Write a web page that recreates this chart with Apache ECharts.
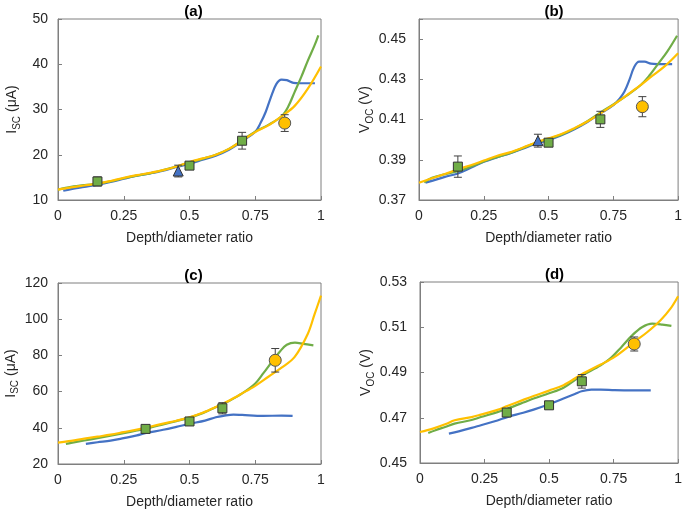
<!DOCTYPE html>
<html><head><meta charset="utf-8">
<script src="https://cdn.jsdelivr.net/npm/echarts/dist/echarts.min.js"></script>
<style>html,body{margin:0;padding:0;background:#fff}#c{width:685px;height:513px}</style>
</head><body><div id="c"></div><script>
const FONT = '"Liberation Sans", Arial, sans-serif';
const BLUE = '#4472C4', GREEN = '#70AD47', ORANGE = '#FFC000';
const xTickLabels = ['0', '0.25', '0.5', '0.75', '1'];
const panelTitles = ['(a)', '(b)', '(c)', '(d)'];
const xAxisTitle = 'Depth/diameter ratio';

// ---- Panel (a): I_SC (µA) ----
const aOrangeX = [0,0.05,0.1,0.15,0.2,0.25,0.3,0.35,0.4,0.45,0.5,0.55,0.6,0.65,0.7,0.75,0.8,0.85,0.9,0.95,1.0];
const aOrangeY = [12.3,12.8,13.2,13.6,14.2,14.9,15.5,16.0,16.6,17.4,18.4,19.2,20.0,21.3,23.1,25.0,26.5,28.5,30.8,34.6,39.5];
const aGreenX = [0,0.05,0.1,0.15,0.2,0.25,0.3,0.35,0.4,0.45,0.5,0.55,0.6,0.65,0.7,0.75,0.8,0.85,0.875,0.9,0.925,0.95,0.975,0.99];
const aGreenY = [12.3,12.9,13.3,13.6,14.1,14.8,15.4,15.9,16.6,17.4,18.3,19.1,20.0,21.3,23.2,25.1,26.6,28.5,30.6,33.9,37.2,40.8,44.1,46.4];
const aBlueX = [0.02,0.05,0.1,0.15,0.2,0.25,0.3,0.35,0.4,0.45,0.5,0.55,0.6,0.65,0.7,0.75,0.77,0.79,0.81,0.83,0.85,0.87,0.895,0.92,0.95,0.977];
const aBlueY = [12.05,12.4,12.9,13.4,14.0,14.7,15.4,15.9,16.5,17.3,18.0,18.9,19.8,21.1,23.0,25.1,27.0,29.5,32.8,35.6,36.6,36.5,35.9,35.8,35.8,35.8];
const aSqX = [0.15,0.5,0.7];   const aSqY = [14.1,17.6,23.1];   const aSqErr = [1.0,0.5,1.85];
const aTriX = [0.457];         const aTriY = [16.4];            const aTriErr = [1.3];
const aCirX = [0.862];         const aCirY = [27.0];            const aCirErr = [1.85];

// ---- Panel (b): V_OC (V) ----
const bOrangeX = [0,0.05,0.1,0.15,0.2,0.25,0.3,0.35,0.4,0.45,0.5,0.55,0.6,0.65,0.7,0.75,0.8,0.85,0.9,0.95,1.0];
const bOrangeY = [0.3786,0.3808,0.3829,0.3853,0.3873,0.3896,0.3919,0.3937,0.396,0.3985,0.4007,0.4028,0.4057,0.409,0.4131,0.4173,0.4219,0.4266,0.4317,0.4367,0.443];
const bGreenX = [0.02,0.05,0.1,0.15,0.2,0.25,0.3,0.35,0.4,0.45,0.5,0.55,0.6,0.65,0.7,0.75,0.8,0.856,0.89,0.92,0.958,0.996];
const bGreenY = [0.3788,0.381,0.3828,0.3843,0.3866,0.3892,0.3913,0.3933,0.3958,0.3983,0.4003,0.4025,0.4055,0.4092,0.4135,0.4175,0.4218,0.4272,0.432,0.4372,0.4438,0.4517];
const bBlueX = [0.025,0.05,0.1,0.15,0.2,0.25,0.3,0.35,0.4,0.45,0.5,0.55,0.6,0.65,0.7,0.75,0.775,0.793,0.812,0.831,0.85,0.87,0.895,0.92,0.95,0.977];
const bBlueY = [0.3786,0.3795,0.3815,0.3832,0.386,0.389,0.3912,0.3932,0.3955,0.398,0.3998,0.4022,0.4052,0.4088,0.413,0.4172,0.4205,0.4239,0.4297,0.4363,0.4388,0.4388,0.4378,0.4376,0.4376,0.4376];
const bSqX = [0.15,0.5,0.70];  const bSqY = [0.3866,0.3985,0.4101]; const bSqErr = [0.0053,0.001,0.004];
const bTriX = [0.459];         const bTriY = [0.3995];              const bTriErr = [0.0032];
const bCirX = [0.862];         const bCirY = [0.4164];              const bCirErr = [0.005];

// ---- Panel (c): I_SC (µA) ----
const cOrangeX = [0,0.05,0.1,0.15,0.2,0.25,0.3,0.35,0.4,0.45,0.5,0.55,0.6,0.65,0.7,0.75,0.8,0.85,0.9,0.95,0.975,1.0];
const cOrangeY = [31.8,32.8,34.0,35.1,36.2,37.6,39.0,40.6,42.3,43.9,45.8,48.3,51.5,55.0,59.0,63.2,68.2,73.2,79.2,92.0,102.5,113.0];
const cGreenX = [0.03,0.05,0.1,0.15,0.2,0.25,0.3,0.35,0.4,0.45,0.5,0.55,0.6,0.65,0.7,0.75,0.781,0.819,0.844,0.87,0.901,0.933,0.971];
const cGreenY = [31.1,31.7,33.0,34.3,35.6,37.0,38.5,40.1,41.9,43.7,45.6,48.1,51.3,54.8,59.0,64.5,70.2,77.6,82.2,85.9,87.1,86.4,85.5];
const cBlueX = [0.106,0.15,0.2,0.25,0.3,0.331,0.4,0.45,0.5,0.559,0.6,0.629,0.667,0.7,0.78,0.85,0.892];
const cBlueY = [31.1,32.0,32.9,34.3,35.8,37.0,38.9,40.5,42.2,44.0,45.8,46.6,47.3,47.1,46.6,46.7,46.6];
const cSqX = [0.333,0.5,0.625]; const cSqY = [39.4,43.5,50.8]; const cSqErr = [1.0,1.0,3.1];
const cCirX = [0.826];          const cCirY = [77.3];           const cCirErr = [6.5];

// ---- Panel (d): V_OC (V) ----
const dOrangeX = [0,0.05,0.1,0.134,0.2,0.236,0.3,0.338,0.4,0.44,0.5,0.556,0.625,0.7,0.754,0.83,0.881,0.932,0.971,1.0];
const dOrangeY = [0.4637,0.4652,0.4672,0.4689,0.4703,0.4714,0.4735,0.4752,0.4779,0.4796,0.482,0.4844,0.4891,0.4935,0.4969,0.5035,0.5079,0.5131,0.5183,0.5237];
const dGreenX = [0.032,0.06,0.1,0.134,0.2,0.236,0.3,0.338,0.4,0.44,0.5,0.556,0.625,0.7,0.74,0.78,0.82,0.86,0.9,0.939,0.974];
const dGreenY = [0.4633,0.4645,0.466,0.4674,0.469,0.4703,0.4725,0.474,0.4767,0.4785,0.4808,0.4833,0.4885,0.4932,0.4965,0.5012,0.5062,0.51,0.5116,0.5112,0.5106];
const dBlueX = [0.112,0.15,0.2,0.236,0.3,0.338,0.4,0.44,0.5,0.556,0.6,0.626,0.664,0.7,0.754,0.82,0.894];
const dBlueY = [0.463,0.464,0.4655,0.4667,0.4688,0.4703,0.4722,0.4736,0.476,0.4785,0.4805,0.4817,0.4824,0.4824,0.4822,0.4821,0.4821];
const dSqX = [0.336,0.5,0.627]; const dSqY = [0.4723,0.4755,0.4861]; const dSqErr = [0.001,0.001,0.003];
const dCirX = [0.83];           const dCirY = [0.5026];               const dCirErr = [0.0031];

// ---- build ----
const zip = (xs, ys) => xs.map((x, i) => [x, ys[i]]);
const zip3 = (xs, ys, es) => xs.map((x, i) => [x, ys[i], es[i]]);

const panels = [
  {lines: [[aBlueX,aBlueY,BLUE],[aGreenX,aGreenY,GREEN],[aOrangeX,aOrangeY,ORANGE]],
   sq: [aSqX,aSqY,aSqErr], tri: [aTriX,aTriY,aTriErr], cir: [aCirX,aCirY,aCirErr],
   y: {min:10,max:50,interval:10,dec:0}, yname:'{i|I}{s|SC}{i| (μA)}',
   grid:{left:58,top:19,width:263,height:181}, lblMargin:10, nameGap:36},
  {lines: [[bBlueX,bBlueY,BLUE],[bGreenX,bGreenY,GREEN],[bOrangeX,bOrangeY,ORANGE]],
   sq: [bSqX,bSqY,bSqErr], tri: [bTriX,bTriY,bTriErr], cir: [bCirX,bCirY,bCirErr],
   y: {min:0.37,max:0.46,interval:0.02,dec:2}, yname:'{i|V}{s|OC}{i| (V)}',
   grid:{left:419,top:19,width:262,height:181}, lblMargin:13, nameGap:42},
  {lines: [[cBlueX,cBlueY,BLUE],[cGreenX,cGreenY,GREEN],[cOrangeX,cOrangeY,ORANGE]],
   sq: [cSqX,cSqY,cSqErr], tri: null, cir: [cCirX,cCirY,cCirErr],
   y: {min:20,max:120,interval:20,dec:0}, yname:'{i|I}{s|SC}{i| (μA)}',
   grid:{left:58,top:283,width:263,height:181}, lblMargin:10, nameGap:36},
  {lines: [[dBlueX,dBlueY,BLUE],[dGreenX,dGreenY,GREEN],[dOrangeX,dOrangeY,ORANGE]],
   sq: [dSqX,dSqY,dSqErr], tri: null, cir: [dCirX,dCirY,dCirErr],
   y: {min:0.45,max:0.53,interval:0.02,dec:2}, yname:'{i|V}{s|OC}{i| (V)}',
   grid:{left:420,top:282,width:261,height:181}, lblMargin:13, nameGap:42}
];

const AX = '#7f7f7f', TXT = '#262626';

function errRender(params, api) {
  const x = api.value(0), y = api.value(1), e = api.value(2);
  const t = api.coord([x, y + e]), b = api.coord([x, y - e]);
  const w = 4, st = {stroke: '#404040', lineWidth: 1};
  return {type: 'group', children: [
    {type: 'line', shape: {x1: t[0], y1: t[1], x2: b[0], y2: b[1]}, style: st},
    {type: 'line', shape: {x1: t[0]-w, y1: t[1], x2: t[0]+w, y2: t[1]}, style: st},
    {type: 'line', shape: {x1: b[0]-w, y1: b[1], x2: b[0]+w, y2: b[1]}, style: st}
  ]};
}

const grid = [], xAxis = [], yAxis = [], series = [], title = [];
panels.forEach((p, k) => {
  grid.push(Object.assign({show: true, borderColor: AX, borderWidth: 1, backgroundColor: 'transparent'}, p.grid));
  title.push({text: panelTitles[k], left: p.grid.left + p.grid.width / 2 - 1, top: p.grid.top - 20, textAlign: 'center',
    textStyle: {fontFamily: FONT, fontSize: 15, fontWeight: 'bold', color: '#000'}});
  xAxis.push({type: 'value', gridIndex: k, min: 0, max: 1, interval: 0.25,
    name: xAxisTitle, nameLocation: 'middle', nameGap: 31,
    nameTextStyle: {fontFamily: FONT, fontSize: 14, color: TXT},
    axisLine: {show: true, lineStyle: {color: AX}},
    axisTick: {show: true, inside: true, length: 4, lineStyle: {color: AX}},
    splitLine: {show: false},
    axisLabel: {fontFamily: FONT, fontSize: 14, color: TXT, margin: 9,
      formatter: v => { const i = Math.round(v / 0.25); return xTickLabels[i] !== undefined ? xTickLabels[i] : ''; }}});
  const dec = p.y.dec;
  yAxis.push({type: 'value', gridIndex: k, min: p.y.min, max: p.y.max, interval: p.y.interval,
    name: p.yname, nameLocation: 'middle', nameGap: p.nameGap,
    nameTextStyle: {rich: {
      i: {fontFamily: FONT, fontSize: 14, color: TXT, lineHeight: 20},
      s: {fontFamily: FONT, fontSize: 10, color: TXT, lineHeight: 10, verticalAlign: 'bottom'}}},
    axisLine: {show: true, lineStyle: {color: AX}},
    axisTick: {show: true, inside: true, length: 4, lineStyle: {color: AX}},
    splitLine: {show: false},
    axisLabel: {fontFamily: FONT, fontSize: 14, color: TXT, margin: p.lblMargin, showMaxLabel: true,
      formatter: v => {
        const n = Math.round((v - p.y.min) / p.y.interval * 1000) / 1000;
        if (Math.abs(n - Math.round(n)) > 1e-6 || v > p.y.max - 1e-9 && Math.abs((p.y.max - p.y.min) / p.y.interval - Math.round((p.y.max - p.y.min) / p.y.interval)) > 1e-6) return '';
        return v.toFixed(dec);
      }}});
  p.lines.forEach(([xs, ys, col]) => {
    series.push({type: 'line', xAxisIndex: k, yAxisIndex: k, data: zip(xs, ys), smooth: 0.35,
      showSymbol: false, symbol: 'none', lineStyle: {color: col, width: 2.2}, z: 2, silent: true, animation: false});
  });
  const pts = [];
  if (p.sq) pts.push([p.sq, 'rect', 9, GREEN, '#333']);
  if (p.tri) pts.push([p.tri, 'triangle', 10, BLUE, '#333']);
  if (p.cir) pts.push([p.cir, 'circle', 12, ORANGE, '#555']);
  pts.forEach(([d, sym, size, col, bc]) => {
    series.push({type: 'custom', xAxisIndex: k, yAxisIndex: k, renderItem: errRender,
      data: zip3(d[0], d[1], d[2]), encode: {x: 0, y: 1}, z: 3, silent: true, animation: false});
    series.push({type: 'scatter', xAxisIndex: k, yAxisIndex: k, data: zip(d[0], d[1]), symbol: sym,
      symbolSize: size, itemStyle: {color: col, borderColor: bc, borderWidth: 1, opacity: 1}, z: 4, silent: true, animation: false});
  });
});

const chart = echarts.init(document.getElementById('c'), null, {renderer: 'canvas'});
chart.setOption({backgroundColor: '#fff', animation: false, title, grid, xAxis, yAxis, series});
</script></body></html>
